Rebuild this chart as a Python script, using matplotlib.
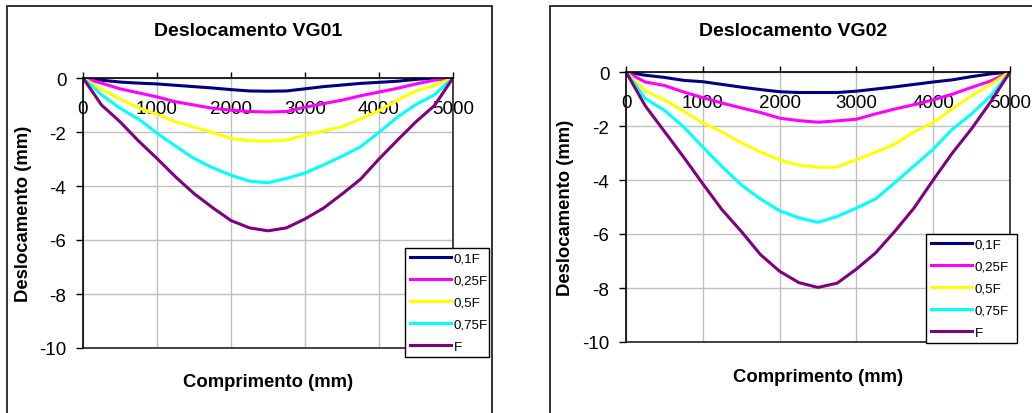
import matplotlib
matplotlib.use("Agg")
import matplotlib.pyplot as plt
from matplotlib.patches import Rectangle

plt.rcParams['font.family'] = ['Liberation Sans', 'DejaVu Sans']

# Positions along the beam (mm)
x_mm = [0, 250, 500, 750, 1000, 1250, 1500, 1750, 2000, 2250, 2500,
        2750, 3000, 3250, 3500, 3750, 4000, 4250, 4500, 4750, 5000]

series_labels = ['0,1F', '0,25F', '0,5F', '0,75F', 'F']
series_colors = ['#000080', '#FF00FF', '#FFFF00', '#00FFFF', '#800080']

# VG01 displacements (mm)
vg01_01F = [0, -0.08, -0.15, -0.19, -0.22, -0.27, -0.32, -0.37, -0.43, -0.48, -0.49,
            -0.48, -0.40, -0.32, -0.26, -0.20, -0.16, -0.12, -0.05, -0.01, 0]
vg01_025F = [0, -0.19, -0.40, -0.55, -0.70, -0.88, -1.00, -1.12, -1.19, -1.24, -1.26,
             -1.24, -1.08, -0.95, -0.82, -0.66, -0.52, -0.38, -0.22, -0.08, 0]
vg01_05F = [0, -0.42, -0.78, -1.10, -1.35, -1.62, -1.82, -2.02, -2.24, -2.32, -2.34,
            -2.30, -2.12, -1.96, -1.80, -1.52, -1.21, -0.82, -0.48, -0.27, 0]
vg01_075F = [0, -0.62, -1.12, -1.52, -2.04, -2.52, -2.98, -3.32, -3.60, -3.82, -3.88,
             -3.72, -3.52, -3.22, -2.90, -2.55, -2.01, -1.45, -0.98, -0.62, 0]
vg01_F = [0, -1.00, -1.62, -2.33, -2.98, -3.66, -4.28, -4.80, -5.28, -5.55, -5.66,
          -5.55, -5.22, -4.82, -4.30, -3.75, -3.00, -2.30, -1.62, -1.02, 0]

# VG02 displacements (mm)
vg02_01F = [0, -0.12, -0.20, -0.31, -0.36, -0.46, -0.56, -0.65, -0.73, -0.76, -0.76,
            -0.76, -0.71, -0.63, -0.55, -0.46, -0.37, -0.29, -0.17, -0.07, 0]
vg02_025F = [0, -0.37, -0.50, -0.74, -0.95, -1.15, -1.33, -1.50, -1.71, -1.80, -1.86,
             -1.81, -1.75, -1.55, -1.37, -1.21, -1.03, -0.82, -0.57, -0.33, 0]
vg02_05F = [0, -0.70, -1.03, -1.45, -1.88, -2.22, -2.62, -2.96, -3.26, -3.45, -3.53,
            -3.52, -3.25, -2.97, -2.67, -2.22, -1.87, -1.36, -0.88, -0.45, 0]
vg02_075F = [0, -0.98, -1.42, -2.03, -2.78, -3.50, -4.18, -4.70, -5.14, -5.40, -5.57,
             -5.35, -5.04, -4.70, -4.10, -3.48, -2.86, -2.12, -1.55, -0.88, 0]
vg02_F = [0, -1.25, -2.20, -3.15, -4.14, -5.10, -5.90, -6.76, -7.38, -7.80, -7.98,
          -7.82, -7.30, -6.70, -5.90, -5.04, -4.00, -3.00, -2.10, -1.10, 0]

x_ticks = [0, 1000, 2000, 3000, 4000, 5000]
y_ticks = [0, -2, -4, -6, -8, -10]

W, H = 1032, 414
fig = plt.figure(figsize=(W / 100, H / 100), dpi=100)


def px_rect(l, t, r, b):
    return [l / W, 1 - b / H, (r - l) / W, (b - t) / H]


def draw_chart(rect, title, series, frame, title_xy, xlabel_xy, ylabel_x, legend_rect):
    # outer chart frame
    fig.patches.append(Rectangle((frame[0] / W, 1 - frame[3] / H),
                                 (frame[2] - frame[0]) / W, (frame[3] - frame[1]) / H,
                                 transform=fig.transFigure, fill=False,
                                 edgecolor='#222222', lw=1.3))
    ax = fig.add_axes(px_rect(*rect))
    lines = []
    for vals, lab, col in zip(series, series_labels, series_colors):
        ln, = ax.plot(x_mm, vals, color=col, lw=2.2, label=lab, solid_joinstyle='round')
        lines.append(ln)
    ax.set_xlim(0, 5000)
    ax.set_ylim(-10, 0)
    ax.set_xticks(x_ticks)
    ax.set_yticks(y_ticks)
    ax.set_yticklabels([str(v) for v in y_ticks])
    ax.grid(True, color='#c0c0c0', lw=1)
    ax.spines['top'].set_visible(False)
    ax.spines['bottom'].set_position(('data', 0))
    ax.spines['right'].set_color('#222222')
    for s in ('left', 'bottom', 'right'):
        ax.spines[s].set_linewidth(1.2)
    ax.axhline(-10, color='#222222', lw=1.2, clip_on=False, zorder=3)
    ax.tick_params(axis='x', direction='in', length=4, width=1, pad=15.5,
                   labelsize=13.5, colors='black')
    ax.tick_params(axis='y', direction='out', length=5, width=1, pad=7,
                   labelsize=13.5)
    ax.set_ylabel('Deslocamento (mm)', fontsize=13.3, fontweight='bold')
    ax.yaxis.set_label_coords(ylabel_x, 0.5)
    fig.text(title_xy[0] / W, 1 - title_xy[1] / H, title, fontsize=14,
             fontweight='bold', ha='center', va='center')
    fig.text(xlabel_xy[0] / W, 1 - xlabel_xy[1] / H, 'Comprimento (mm)',
             fontsize=13.3, fontweight='bold', ha='center', va='center')
    l, t, r, b = legend_rect
    leg = fig.legend(handles=lines, loc='upper left',
                     bbox_to_anchor=(l / W, 1 - b / H, (r - l) / W, (b - t) / H),
                     mode='expand', fontsize=9.6, handlelength=3.1, handletextpad=0.2,
                     labelspacing=0.72, borderpad=0.35, borderaxespad=0,
                     fancybox=False, frameon=True, edgecolor='black', framealpha=1)
    leg.get_frame().set_linewidth(1.0)
    return ax


draw_chart((83, 79, 453, 349), 'Deslocamento VG01',
           [vg01_01F, vg01_025F, vg01_05F, vg01_075F, vg01_F],
           frame=(7, 7, 492, 420), title_xy=(248, 32), xlabel_xy=(268, 383),
           ylabel_x=-0.138, legend_rect=(405, 249, 489, 360))

draw_chart((626, 73, 1010, 343), 'Deslocamento VG02',
           [vg02_01F, vg02_025F, vg02_05F, vg02_075F, vg02_F],
           frame=(550, 7, 1040, 420), title_xy=(793, 32), xlabel_xy=(818, 378),
           ylabel_x=-0.135, legend_rect=(926, 235, 1017, 344))

fig.savefig('out.png', dpi=100)
